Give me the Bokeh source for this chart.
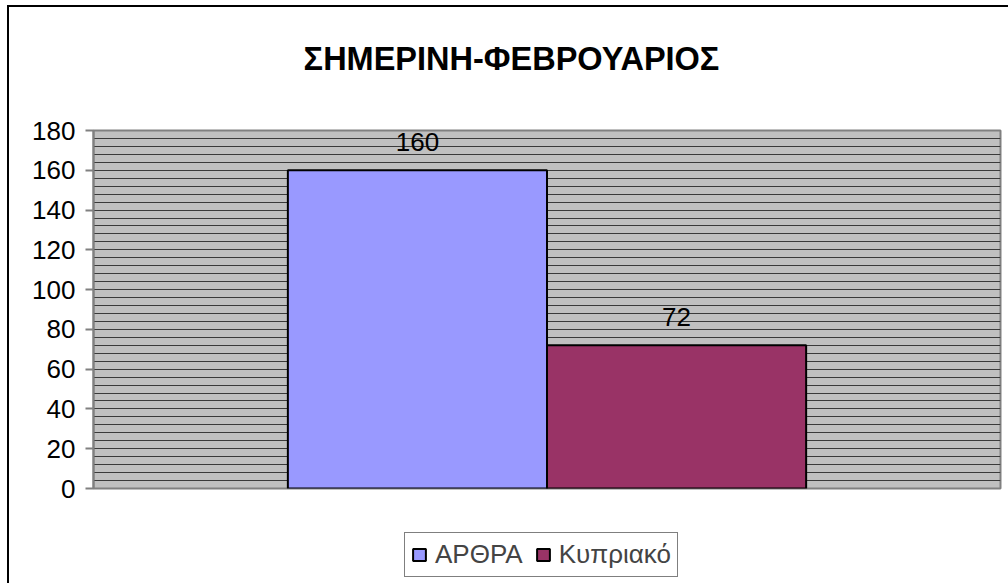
from bokeh.plotting import figure
from bokeh.layouts import column
from bokeh.models import (FactorRange, Range1d, SingleIntervalTicker, Legend,
                          LegendItem, Label)
from bokeh.core.properties import value
from bokeh.embed import file_html
from bokeh.resources import INLINE

title_text = "ΣΗΜΕΡΙΝΗ-ΦΕΒΡΟΥΑΡΙΟΣ"
series = ["ΑΡΘΡΑ", "Κυπριακό"]
values = [160, 72]
colors = ["#9999FF", "#993366"]

FONT = "Liberation Sans"
LEFT_LINE = "linear-gradient(#000,#000) 7px 0 / 2px 100% no-repeat"


def strip(height):
    f = figure(width=1008, height=height,
               x_range=FactorRange(factors=series), y_range=Range1d(0, 200),
               x_axis_type=None, y_axis_type=None,
               output_backend="svg", toolbar_location=None,
               min_border_left=0, min_border_right=0,
               min_border_top=0, min_border_bottom=0)
    f.border_fill_alpha = 0
    f.background_fill_alpha = 0
    f.outline_line_color = None
    f.grid.visible = False
    return f


# ---- title strip --------------------------------------------------------------
t = strip(110)
t.styles = {"background": "linear-gradient(#000,#000) 7px 5px / 2px 100% no-repeat, "
                          "linear-gradient(#000,#000) 7px 5px / 100% 2px no-repeat, #fff"}
t.add_layout(Label(x=418, y=52, x_units="screen", y_units="screen",
                   text=title_text, text_align="center",
                   text_baseline="alphabetic", text_font=FONT,
                   text_font_size="32.5px", text_font_style="bold",
                   text_color="black"))

# ---- main chart -------------------------------------------------------------
p = figure(width=1008, height=410,
           x_range=FactorRange(factors=series, range_padding=0.75,
                               range_padding_units="absolute"),
           y_range=Range1d(0, 180),
           output_backend="svg", toolbar_location=None,
           min_border_left=93, min_border_right=8,
           min_border_top=20, min_border_bottom=32)
p.border_fill_alpha = 0
p.styles = {"background": LEFT_LINE + ", #fff"}

p.background_fill_color = "#C0C0C0"
p.outline_line_color = "#808080"
p.outline_line_width = 2

p.xaxis.visible = False
p.xgrid.visible = False

ya = p.yaxis[0]
ya.ticker = SingleIntervalTicker(interval=20)
ya.axis_line_color = "#808080"
ya.axis_line_width = 2
ya.major_tick_line_color = "#808080"
ya.major_tick_line_width = 2
ya.major_tick_out = 8
ya.major_tick_in = 0
ya.minor_tick_line_color = None
ya.major_label_standoff = 10
ya.major_label_text_font = FONT
ya.major_label_text_font_size = "26px"
ya.major_label_text_color = "black"

p.ygrid.ticker = SingleIntervalTicker(interval=4)
p.ygrid.grid_line_color = "#3a3a3a"
p.ygrid.grid_line_width = 1

for s, v, c in zip(series, values, colors):
    p.vbar(x=[s], top=[v], width=1.0, fill_color=c,
           line_color="black", line_width=2)

p.text(x=series, y=values, text=[str(v) for v in values],
       text_align="center", text_baseline="alphabetic", y_offset=-28,
       text_font=value(FONT), text_font_size="26px", text_color="black")

# ---- legend strip below the chart ------------------------------------------
q = strip(63)
q.styles = {"background": LEFT_LINE + ", #fff"}

items = []
for s, v, c in zip(series, values, colors):
    # legend proxies: same glyph as the bars, not drawn in this strip
    r = q.vbar(x=[s], top=[v], width=1.0, fill_color=c,
               line_color="black", line_width=2)
    r.visible = False
    items.append(LegendItem(label=s, renderers=[r]))

legend = Legend(items=items, orientation="horizontal", location=(311, 6),
                margin=0, padding=6, spacing=12, label_standoff=8,
                glyph_width=16, glyph_height=15,
                label_text_font=FONT, label_text_font_size="26px",
                border_line_color="black", border_line_width=1,
                background_fill_color="white", background_fill_alpha=1,
                inactive_fill_alpha=0)
q.add_layout(legend, "center")

layout = column(t, p, q, spacing=0)
open("out.html", "w").write(file_html(layout, INLINE))
